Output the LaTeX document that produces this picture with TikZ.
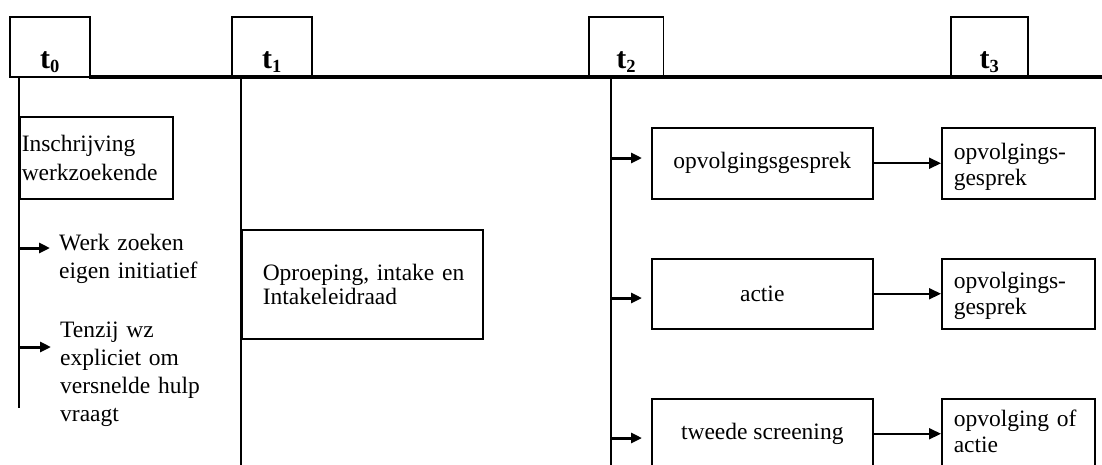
\documentclass[tikz,border=0pt]{standalone}
\usepackage{fontspec}
\setmainfont{Liberation Serif}
\usetikzlibrary{arrows.meta}
% time marker: bold t with a bold subscript index
\newcommand{\tmark}[1]{\textbf{\fontsize{30}{30}\selectfont t}\raisebox{-4pt}{\textbf{\fontsize{18.5}{18.5}\selectfont #1}}}
\begin{document}
\begin{tikzpicture}[x=1pt,y=-1pt,
  every node/.style={font=\fontsize{23.5}{28}\selectfont},
  tbox/.style={draw, line width=1.5pt, fill=white, minimum width=80pt,
    inner sep=0pt, text height=52pt, text depth=8pt, anchor=north west},
  box/.style={draw, line width=1.5pt, anchor=north west},
  nextbox/.style={box, text width=129pt, inner xsep=12pt, inner ysep=0pt,
    text height=30pt, text depth=40pt, align=left,
    font=\fontsize{23.5}{26}\selectfont},
  txt/.style={inner sep=0pt, anchor=base west, align=left},
  timeline/.style={line width=3.5pt},
  vline/.style={line width=2pt},
  branch/.style={line width=3pt, -{Triangle[length=11pt,width=10pt]}, shorten >=9pt},
  flow/.style={line width=2pt, -{Triangle[length=12pt,width=11pt]}}
]
\clip (0,0) rectangle (1102,464);

% time markers
\node[tbox] (t0) at (9,16) {\tmark{0}};
\node[tbox] (t1) at (231,16) {\tmark{1}};
\node[tbox, minimum width=74.5pt] (t2) at (588,16) {\tmark{2}};
\node[tbox, minimum width=77pt] (t3) at (950,16) {\tmark{3}};

% time axis
\coordinate (axisL) at (89,77);
\coordinate (axisR) at (1104,77);
\draw[timeline] (axisL) -- (axisR);

% vertical lines below t0, t1, t2
\coordinate (v0a) at (19,77);  \coordinate (v0b) at (19,408);
\coordinate (v1a) at (241,77); \coordinate (v1b) at (241,470);
\coordinate (v2a) at (611,77); \coordinate (v2b) at (611,470);
\draw[vline] (v0a) -- (v0b);
\draw[vline] (v1a) -- (v1b);
\draw[vline] (v2a) -- (v2b);

% t0 column
\node[box, text width=149pt, inner xsep=2pt, minimum height=82pt, align=left,
  font=\fontsize{23.5}{29}\selectfont] (insch) at (19,116) {Inschrijving\\werkzoekende};

\node[txt, text width=140pt] (werk) at (59,250) {Werk zoeken\\eigen initiatief};
\node[txt, text width=150pt] (tenzij) at (60,337) {Tenzij wz\\expliciet om\\versnelde hulp\\vraagt};
\coordinate (a1) at (19,248);
\coordinate (a2) at (19,347);
\draw[branch] (a1) -- (a1 -| werk.west);
\draw[branch] (a2) -- (a2 -| tenzij.west);

% t1 column
\node[box, text width=199pt, inner xsep=21pt, minimum height=109pt, align=left,
  font=\fontsize{23.5}{24}\selectfont] (oproep) at (241,229)
  {\mbox{Oproeping, intake en}\\Intakeleidraad};

% t2 column: first step
\node[box, minimum width=221pt, minimum height=71pt] (g1) at (651,127) {opvolgingsgesprek};
\node[box, minimum width=221pt, minimum height=70pt] (g2) at (651,258) {actie};
\node[box, minimum width=221pt, minimum height=70pt] (g3) at (651,398) {tweede screening};

% t2 column: follow-up step
\node[nextbox, text height=32pt, text depth=39pt] (h1) at (941,127) {opvolgings-\\gesprek};
\node[nextbox] (h2) at (941,258) {opvolgings-\\gesprek};
\node[nextbox, text height=28pt, text depth=42pt] (h3) at (941,398) {\mbox{opvolging of}\\actie};

\coordinate (b1) at (611,158);
\coordinate (b2) at (611,298);
\coordinate (b3) at (611,438);
\draw[branch] (b1) -- (b1 -| g1.west);
\draw[branch] (b2) -- (b2 -| g2.west);
\draw[branch] (b3) -- (b3 -| g3.west);

\draw[flow] (g1.east) -- (h1.west |- g1.east);
\draw[flow] (g2.east) -- (h2.west |- g2.east);
\draw[flow] (g3.east) -- (h3.west |- g3.east);
\end{tikzpicture}
\end{document}
